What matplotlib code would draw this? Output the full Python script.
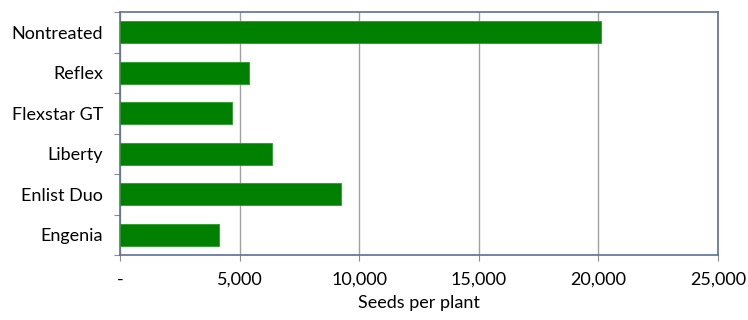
import matplotlib.pyplot as plt
from matplotlib.ticker import FuncFormatter

# Seeds per plant by herbicide treatment
treatments = ['Nontreated', 'Reflex', 'Flexstar GT', 'Liberty', 'Enlist Duo', 'Engenia']
seeds = [20100, 5400, 4670, 6340, 9240, 4130]
x_ticks = [0, 5000, 10000, 15000, 20000, 25000]

plt.rcParams['font.family'] = ['Lato', 'DejaVu Sans']

fig = plt.figure(figsize=(7.48, 3.2), dpi=100)
ax = fig.add_axes([120 / 748, 65 / 320, 598 / 748, 243 / 320])

pos = list(range(len(treatments)))
ax.barh(pos, seeds, height=0.55, color='#008000', edgecolor='#2a9a2a', linewidth=0.6, zorder=3)

ax.set_ylim(len(treatments) - 0.5, -0.5)
ax.set_xlim(0, 25000)
ax.set_yticks([p - 0.5 for p in pos] + [len(treatments) - 0.5])
ax.set_yticklabels([])
ax.set_yticks(pos, minor=True)
ax.set_yticklabels(treatments, minor=True)
ax.tick_params(axis='y', which='minor', length=0, pad=12, labelsize=13)
ax.tick_params(axis='y', which='major', length=4, color='#8c8c8c', direction='out')

ax.set_xticks(x_ticks)
ax.xaxis.set_major_formatter(FuncFormatter(lambda v, p: '-' if v == 0 else f'{int(v):,}'))
ax.tick_params(axis='x', length=4, color='#8c8c8c', labelsize=13, pad=8)
ax.grid(axis='x', color='#a0a0a0', linewidth=1, zorder=0)

for s in ax.spines.values():
    s.set_color('#5b6f98')
    s.set_linewidth(1.2)

ax.set_xlabel('Seeds per plant', fontsize=13, labelpad=5)

fig.savefig('out.png', dpi=100)
